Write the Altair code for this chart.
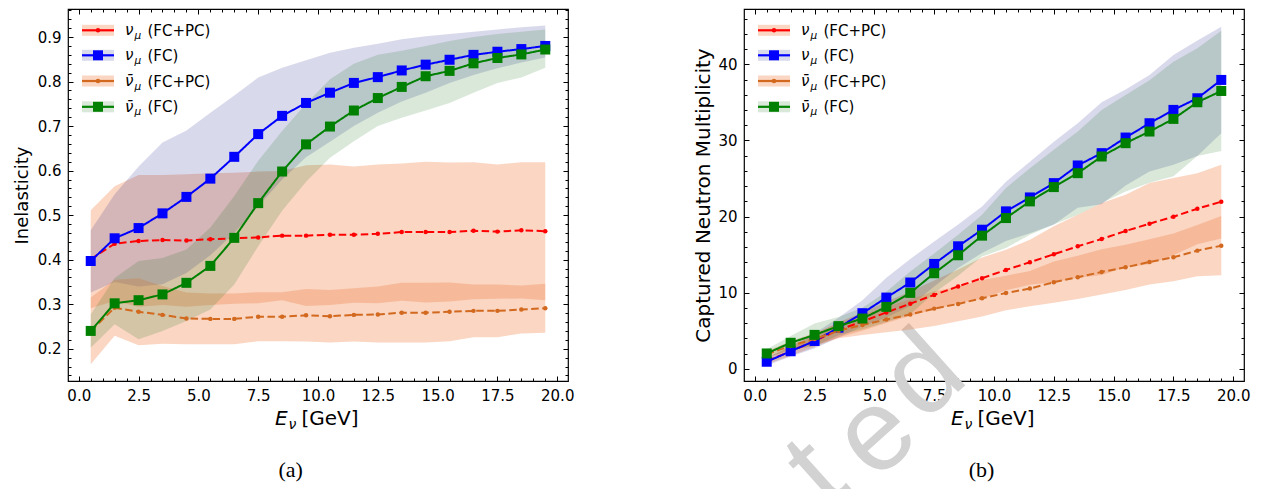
import altair as alt
import pandas as pd

# ---------------- data ----------------
E_GEV = [0.5, 1.5, 2.5, 3.5, 4.5, 5.5, 6.5, 7.5, 8.5, 9.5,
         10.5, 11.5, 12.5, 13.5, 14.5, 15.5, 16.5, 17.5, 18.5, 19.5]

# (a) Inelasticity
INEL_NUMU_FCPC = [0.401, 0.436, 0.442, 0.444, 0.443, 0.446, 0.448, 0.450, 0.454, 0.454,
                  0.456, 0.456, 0.458, 0.462, 0.462, 0.462, 0.465, 0.463, 0.466, 0.464]
INEL_NUMU_FCPC_HI = [0.511, 0.565, 0.590, 0.590, 0.592, 0.594, 0.595, 0.598, 0.599, 0.612,
                     0.614, 0.609, 0.614, 0.616, 0.620, 0.618, 0.619, 0.614, 0.619, 0.619]
INEL_NUMU_FCPC_LO = [0.291, 0.307, 0.294, 0.298, 0.294, 0.298, 0.301, 0.302, 0.309, 0.296,
                     0.298, 0.303, 0.302, 0.308, 0.304, 0.306, 0.311, 0.312, 0.313, 0.309]

INEL_NUMU_FC = [0.397, 0.448, 0.471, 0.504, 0.541, 0.582, 0.631, 0.682, 0.723, 0.752,
                0.775, 0.797, 0.810, 0.825, 0.838, 0.849, 0.860, 0.867, 0.873, 0.880]
INEL_NUMU_FC_HI = [0.466, 0.547, 0.609, 0.663, 0.690, 0.730, 0.769, 0.809, 0.831, 0.848,
                   0.865, 0.876, 0.885, 0.895, 0.902, 0.907, 0.912, 0.917, 0.922, 0.926]
INEL_NUMU_FC_LO = [0.326, 0.350, 0.340, 0.345, 0.370, 0.410, 0.460, 0.520, 0.580, 0.630,
                   0.665, 0.700, 0.730, 0.755, 0.775, 0.797, 0.815, 0.830, 0.843, 0.854]

INEL_NUBAR_FCPC = [0.240, 0.292, 0.283, 0.276, 0.268, 0.267, 0.267, 0.272, 0.272, 0.275,
                   0.273, 0.276, 0.277, 0.281, 0.281, 0.283, 0.285, 0.285, 0.288, 0.291]
INEL_NUBAR_FCPC_HI = [0.315, 0.355, 0.358, 0.341, 0.326, 0.324, 0.324, 0.327, 0.327, 0.334,
                      0.332, 0.336, 0.340, 0.348, 0.348, 0.349, 0.344, 0.344, 0.342, 0.346]
INEL_NUBAR_FCPC_LO = [0.165, 0.229, 0.208, 0.211, 0.210, 0.210, 0.210, 0.217, 0.217, 0.216,
                      0.214, 0.216, 0.214, 0.214, 0.214, 0.217, 0.226, 0.226, 0.234, 0.236]

INEL_NUBAR_FC = [0.240, 0.302, 0.309, 0.322, 0.348, 0.386, 0.449, 0.527, 0.598, 0.659,
                 0.699, 0.735, 0.763, 0.788, 0.812, 0.824, 0.841, 0.853, 0.861, 0.872]
INEL_NUBAR_FC_HI = [0.277, 0.359, 0.397, 0.404, 0.423, 0.472, 0.543, 0.622, 0.689, 0.750,
                    0.805, 0.840, 0.860, 0.869, 0.880, 0.891, 0.900, 0.907, 0.912, 0.917]
INEL_NUBAR_FC_LO = [0.202, 0.255, 0.221, 0.240, 0.262, 0.288, 0.344, 0.430, 0.510, 0.575,
                    0.629, 0.666, 0.700, 0.719, 0.735, 0.752, 0.775, 0.797, 0.809, 0.831]

# (b) Captured neutron multiplicity (mean and symmetric spread)
NMULT_NUMU_FCPC = [1.0, 2.3, 3.65, 5.1, 6.2, 7.4, 8.55, 9.7, 10.82, 11.9,
                   12.98, 14.0, 15.04, 16.09, 17.05, 18.1, 19.06, 19.98, 21.03, 21.95]
NMULT_NUMU_FCPC_ERR = [0.4, 0.6, 0.8, 1.0, 1.2, 1.4, 1.6, 1.9, 2.23, 2.71,
                       2.67, 2.96, 3.67, 4.15, 4.72, 4.76, 5.34, 5.07, 4.67, 4.85]
NMULT_NUMU_FC = [0.92, 2.3, 3.65, 5.4, 7.3, 9.35, 11.33, 13.77, 16.09, 18.27,
                 20.68, 22.51, 24.39, 26.71, 28.33, 30.38, 32.26, 34.01, 35.54, 37.95]
NMULT_NUMU_FC_ERR = [0.5, 0.7, 1.0, 1.3, 1.7, 2.6, 3.1, 2.95, 2.85, 3.05,
                     3.9, 4.7, 5.45, 5.55, 6.7, 6.3, 6.35, 7.2, 7.6, 7.0]
NMULT_NUBAR_FCPC = [1.9, 3.0, 3.9, 5.0, 5.75, 6.47, 7.13, 7.9, 8.52, 9.27,
                    9.95, 10.54, 11.37, 12.02, 12.72, 13.33, 14.03, 14.64, 15.52, 16.17]
NMULT_NUBAR_FCPC_ERR = [0.4, 0.6, 0.8, 1.0, 1.3, 1.66, 1.97, 2.27, 2.27, 2.4,
                        2.27, 2.32, 2.71, 2.84, 2.97, 2.97, 2.97, 3.14, 3.37, 3.89]
NMULT_NUBAR_FC = [2.01, 3.41, 4.45, 5.6, 6.6, 8.13, 9.97, 12.55, 14.91, 17.49,
                  19.80, 21.99, 23.87, 25.70, 27.89, 29.64, 31.17, 32.83, 35.02, 36.50]
NMULT_NUBAR_FC_ERR = [0.55, 0.9, 1.5, 1.2, 1.4, 2.0, 2.8, 2.6, 2.7, 2.75,
                      3.94, 4.37, 4.9, 5.47, 6.11, 6.34, 6.73, 7.52, 7.08, 7.9]

# ---------------- styles ----------------
LINE_COLORS = ["#ff0000", "#0000ff", "#d2691e", "#008000"]
BAND_COLORS = ["#ee7f45", "#000080", "#ee7f45", "#006400"]
BAND_OPACITY = [0.32, 0.15, 0.32, 0.15]
DASHED = [True, False, True, False]
MARKERS = ["circle", "square", "circle", "square"]
LEG_SYM = ["ν", "ν", "ν̄", "ν̄"]
LEG_TAG = ["(FC+PC)", "(FC)", "(FC+PC)", "(FC)"]

# visible end of the page watermark ("...ted"), one letter at a time
WATERMARK_LETTERS = ["t", "e", "d"]

W, H = 500, 372
X_DOMAIN = [-0.45, 20.45]
X_TICKS = [i * 0.5 for i in range(41)]
FONT = "DejaVu Sans"


def x_axis():
    return alt.Axis(
        values=X_TICKS,
        labelExpr="datum.value % 2.5 === 0 ? format(datum.value, '.1f') : ''",
        grid=True,
        gridColor="black", gridOpacity=1, gridWidth=1,
        gridDash={"condition": {"test": "datum.value % 2.5 === 0",
                                "value": [5, H - 10, 5, 0]},
                  "value": [3, H - 6, 3, 0]},
        ticks=False, tickSize=0, domain=False,
        labelFont=FONT, labelFontSize=15, labelColor="black",
        labelPadding=7, labelOverlap=False, labelFlush=False,
    )


def y_axis(values, major_test, label_fmt, title_size, title_pad):
    return alt.Axis(
        values=values,
        labelExpr=f"({major_test}) ? format(datum.value, '{label_fmt}') : ''",
        grid=True,
        gridColor="black", gridOpacity=1, gridWidth=1,
        gridDash={"condition": {"test": major_test, "value": [5, W - 10, 5, 0]},
                  "value": [3, W - 6, 3, 0]},
        ticks=False, tickSize=0, domain=False,
        labelFont=FONT, labelFontSize=15, labelColor="black",
        labelPadding=7, labelOverlap=False, labelFlush=False,
        titleFont=FONT, titleFontSize=title_size, titleFontWeight="normal",
        titleColor="black", titlePadding=title_pad,
    )


ONE = pd.DataFrame({"k": [0]})


def txt(text, x, y, size, style="normal", font=FONT, color="black", align="left", angle=0):
    return alt.Chart(ONE).mark_text(
        text=text, font=font, fontSize=size, fontStyle=style, angle=angle,
        align=align, baseline="alphabetic", color=color,
    ).encode(x=alt.value(x), y=alt.value(y))


def legend_layers():
    layers = []
    ycs = [21.3, 46.3, 72.0, 97.8]
    for i, yc in enumerate(ycs):
        layers.append(alt.Chart(ONE).mark_rect(color=BAND_COLORS[i], opacity=BAND_OPACITY[i]).encode(
            x=alt.value(14), x2=alt.value(46), y=alt.value(yc - 5.5), y2=alt.value(yc + 5.5)))
        layers.append(alt.Chart(ONE).mark_rule(color=LINE_COLORS[i], strokeWidth=2.2).encode(
            x=alt.value(14), x2=alt.value(46), y=alt.value(yc)))
        if MARKERS[i] == "square":
            m = alt.Chart(ONE).mark_square(size=100, color=LINE_COLORS[i], opacity=1)
        else:
            m = alt.Chart(ONE).mark_circle(size=20, color=LINE_COLORS[i], opacity=1)
        layers.append(m.encode(x=alt.value(30), y=alt.value(yc)))
        layers.append(txt(LEG_SYM[i], 57, yc + 5, 15, style="italic"))
        layers.append(txt("μ", 66.5, yc + 8.5, 10.5, style="italic"))
        layers.append(txt(LEG_TAG[i], 79.5, yc + 5.5, 15))
    return layers


def panel(series, y_domain, y_vals, major_test, fmt, y_title, title_size, title_pad,
          caption, caption_x, watermark=False):
    X = alt.X("E:Q", title=None, scale=alt.Scale(domain=X_DOMAIN, nice=False, zero=False),
              axis=x_axis())
    ysc = alt.Scale(domain=y_domain, nice=False, zero=False)
    yax = y_axis(y_vals, major_test, fmt, title_size, title_pad)
    layers = []
    if watermark:
        anchors = [(96, 490), (155, 452), (203, 393)]
        for letter, (ax, ay) in zip(WATERMARK_LETTERS, anchors):
            layers.append(txt(letter, ax, ay, 116, font="Liberation Sans", color="#d2d2d2",
                              align="center", angle=318))
    dfs = []
    for vals, lo, hi in series:
        dfs.append(pd.DataFrame({"E": E_GEV, "v": vals, "lo": lo, "hi": hi}))
    for i, df in enumerate(dfs):
        layers.append(alt.Chart(df).mark_area(color=BAND_COLORS[i], opacity=BAND_OPACITY[i]).encode(
            x=X, y=alt.Y("lo:Q", title=y_title, scale=ysc, axis=yax), y2="hi:Q"))
    for i, df in enumerate(dfs):
        line = alt.Chart(df).mark_line(color=LINE_COLORS[i], strokeWidth=2,
                                       strokeDash=[7.5, 3.5] if DASHED[i] else [1, 0])
        layers.append(line.encode(x=X, y=alt.Y("v:Q", title=y_title, scale=ysc, axis=yax)))
        if MARKERS[i] == "square":
            pts = alt.Chart(df).mark_square(size=100, color=LINE_COLORS[i], opacity=1)
        else:
            pts = alt.Chart(df).mark_circle(size=20, color=LINE_COLORS[i], opacity=1)
        layers.append(pts.encode(x=X, y=alt.Y("v:Q", title=y_title, scale=ysc, axis=yax)))
    layers += legend_layers()
    # x axis title E_nu [GeV]
    layers.append(txt("E", 207, 416, 20, style="italic"))
    layers.append(txt("ν", 220.5, 420, 14, style="italic"))
    layers.append(txt("[GeV]", 233.5, 416, 20))
    layers.append(txt(caption, caption_x, 468, 22, font="Liberation Serif", align="center"))
    return alt.layer(*layers).properties(width=W, height=H)


def sym(vals, err, sign):
    return [round(v + sign * e, 3) for v, e in zip(vals, err)]


left = panel(
    [(INEL_NUMU_FCPC, INEL_NUMU_FCPC_LO, INEL_NUMU_FCPC_HI),
     (INEL_NUMU_FC, INEL_NUMU_FC_LO, INEL_NUMU_FC_HI),
     (INEL_NUBAR_FCPC, INEL_NUBAR_FCPC_LO, INEL_NUBAR_FCPC_HI),
     (INEL_NUBAR_FC, INEL_NUBAR_FC_LO, INEL_NUBAR_FC_HI)],
    [0.1275, 0.963],
    [round(0.14 + 0.02 * i, 2) for i in range(42)],
    "abs(datum.value * 10 - round(datum.value * 10)) < 0.000001", ".1f",
    "Inelasticity", 18, 6, "(a)", 222.7,
)

right = panel(
    [(NMULT_NUMU_FCPC, sym(NMULT_NUMU_FCPC, NMULT_NUMU_FCPC_ERR, -1), sym(NMULT_NUMU_FCPC, NMULT_NUMU_FCPC_ERR, 1)),
     (NMULT_NUMU_FC, sym(NMULT_NUMU_FC, NMULT_NUMU_FC_ERR, -1), sym(NMULT_NUMU_FC, NMULT_NUMU_FC_ERR, 1)),
     (NMULT_NUBAR_FCPC, sym(NMULT_NUBAR_FCPC, NMULT_NUBAR_FCPC_ERR, -1), sym(NMULT_NUBAR_FCPC, NMULT_NUBAR_FCPC_ERR, 1)),
     (NMULT_NUBAR_FC, sym(NMULT_NUBAR_FC, NMULT_NUBAR_FC_ERR, -1), sym(NMULT_NUBAR_FC, NMULT_NUBAR_FC_ERR, 1))],
    [-1.61, 47.27],
    [2 * i for i in range(24)],
    "datum.value % 10 === 0", "d",
    "Captured Neutron Multiplicity", 20, 4, "(b)", 237.5, watermark=True,
)

chart = alt.hconcat(left, right, spacing=118).properties(
    padding={"left": 12, "top": 2, "right": 0, "bottom": 0},
    background="white",
).configure_view(stroke="black", strokeWidth=1.2)

chart.save("out.html", embed_options={"renderer": "svg", "actions": False})
